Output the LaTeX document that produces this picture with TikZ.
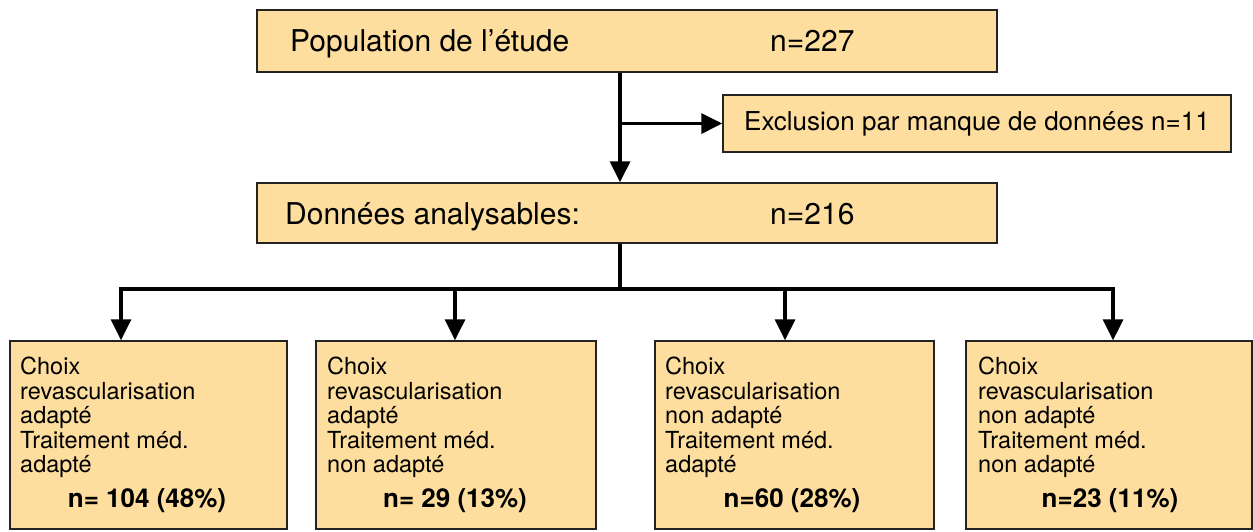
\documentclass[tikz,border=0pt]{standalone}
\usepackage{fontspec}
\setmainfont{TeX Gyre Heros}
\usetikzlibrary{arrows.meta}
\definecolor{boxfill}{RGB}{253,222,158}
\definecolor{boxline}{RGB}{35,35,35}
\begin{document}
\begin{tikzpicture}[x=1pt,y=-1pt,
  box/.style={draw=boxline, line width=1.3pt, fill=boxfill, inner sep=0pt},
  conn/.style={line width=3.2pt, draw=black},
  arr/.style={conn, -{Triangle[length=21pt,width=20pt]}},
  bigtxt/.style={font=\fontsize{30}{36}\selectfont, anchor=base west, inner sep=0pt},
  midtxt/.style={font=\fontsize{26}{30}\selectfont, inner sep=0pt},
  smalltxt/.style={font=\fontsize{23.5}{24.5}\selectfont, anchor=north west, align=left, inner sep=0pt},
  boldtxt/.style={font=\fontsize{26}{30}\selectfont\bfseries, anchor=base, inner sep=0pt}]
\useasboundingbox[fill=white] (0,0) rectangle (1253,531);
% top boxes
\node[box, minimum width=740pt, minimum height=62pt] (top) at (627,41) {};
\node[bigtxt] (toplab) at (290,51) {Population de l’étude};
\node[bigtxt] (topn) at (770,51) {n=227};
\node[box, minimum width=508pt, minimum height=57pt] (excl) at (977,123.5) {};
\node[midtxt] (excllab) at (excl.center) {Exclusion par manque de données n=11};
\node[box, minimum width=740pt, minimum height=60pt] (mid) at (627,213) {};
\node[bigtxt] (midlab) at (285,224) {Données analysables:};
\node[bigtxt] (midn) at (770,224) {n=216};
% bottom boxes
\node[box, minimum width=277pt, minimum height=188pt] (b1) at (148.5,435) {};
\node[box, minimum width=280pt, minimum height=188pt] (b2) at (456,435) {};
\node[box, minimum width=279pt, minimum height=188pt] (b3) at (794.5,435) {};
\node[box, minimum width=286pt, minimum height=188pt] (b4) at (1109,435) {};
\node[smalltxt] (t1) at (20,357) {Choix\\revascularisation\\adapté\\Traitement méd.\\adapté};
\node[smalltxt] (t2) at (327,357) {Choix\\revascularisation\\adapté\\Traitement méd.\\non adapté};
\node[smalltxt] (t3) at (665,357) {Choix\\revascularisation\\non adapté\\Traitement méd.\\adapté};
\node[smalltxt] (t4) at (978,357) {Choix\\revascularisation\\non adapté\\Traitement méd.\\non adapté};
\node[boldtxt] (n1) at (147,507) {n= 104 (48\%)};
\node[boldtxt] (n2) at (455,507) {n= 29 (13\%)};
\node[boldtxt] (n3) at (792,507) {n=60 (28\%)};
\node[boldtxt] (n4) at (1110,507) {n=23 (11\%)};
% connectors
\coordinate (ax) at (620,0);
\coordinate (split) at (620,289);
\coordinate (a1) at (121,289);
\coordinate (a2) at (455,289);
\coordinate (a3) at (785,289);
\coordinate (a4) at (1113,289);
\draw[arr] (top.south -| ax) -- (mid.north -| ax);
\draw[arr] (excl.west -| ax) -- (excl.west);
\draw[conn] (mid.south -| ax) -- (split);
\draw[conn, line cap=rect] (a1) -- (a4);
\draw[arr] (a1) -- (a1 |- b1.north);
\draw[arr] (a2) -- (a2 |- b2.north);
\draw[arr] (a3) -- (a3 |- b3.north);
\draw[arr] (a4) -- (a4 |- b4.north);
\end{tikzpicture}
\end{document}
